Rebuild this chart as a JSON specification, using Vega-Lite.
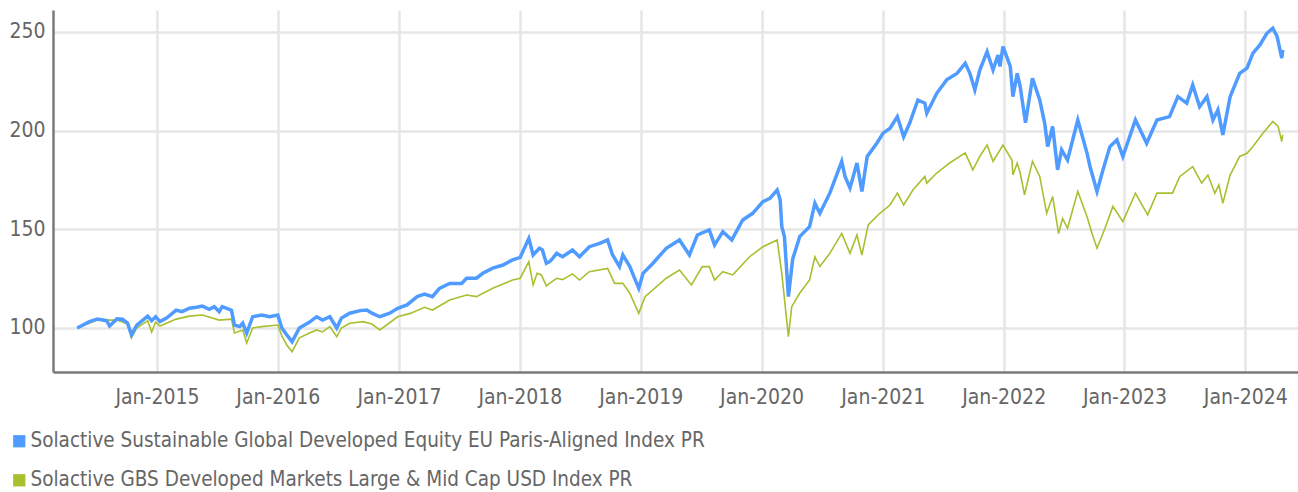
{
  "$schema": "https://vega.github.io/schema/vega-lite/v6.json",
  "width": 1245,
  "height": 362,
  "autosize": {"type": "none"},
  "padding": {"left": 53, "top": 10, "right": 0, "bottom": 120},
  "background": "white",
  "config": {"font": "DejaVu Sans Condensed, Liberation Sans, sans-serif", "view": {"stroke": null}},
  "datasets": {
    "B": [
      {"d":"2014-05-05","v":100},{"d":"2014-07-05","v":104},{"d":"2014-09-02","v":104},{"d":"2014-10-04","v":102},{"d":"2014-10-16","v":95},{"d":"2014-11-01","v":100},{"d":"2014-12-04","v":103.7},{"d":"2014-12-16","v":98},{"d":"2014-12-28","v":103},{"d":"2015-01-10","v":101},{"d":"2015-02-28","v":104.5},{"d":"2015-04-09","v":106},{"d":"2015-05-18","v":106.6},{"d":"2015-07-08","v":104},{"d":"2015-08-14","v":104.5},{"d":"2015-08-23","v":97.5},{"d":"2015-09-17","v":99},{"d":"2015-09-29","v":92.4},{"d":"2015-10-17","v":100},{"d":"2015-11-13","v":100.7},{"d":"2016-01-01","v":101.5},{"d":"2016-01-13","v":96},{"d":"2016-01-28","v":91.4},{"d":"2016-02-13","v":88},{"d":"2016-03-06","v":95},{"d":"2016-04-06","v":97.5},{"d":"2016-04-27","v":99},{"d":"2016-05-15","v":98},{"d":"2016-06-06","v":100.7},{"d":"2016-06-27","v":95.6},{"d":"2016-07-11","v":100},{"d":"2016-08-05","v":102.4},{"d":"2016-09-14","v":103.2},{"d":"2016-10-11","v":102},{"d":"2016-11-04","v":99},{"d":"2016-12-28","v":105.7},{"d":"2017-02-04","v":107.4},{"d":"2017-03-19","v":110.5},{"d":"2017-04-12","v":109.1},{"d":"2017-06-03","v":114.2},{"d":"2017-07-24","v":116.7},{"d":"2017-08-23","v":115.9},{"d":"2017-10-11","v":120.1},{"d":"2017-12-10","v":124.3},{"d":"2018-01-02","v":125.2},{"d":"2018-01-28","v":133.6},{"d":"2018-02-10","v":121.8},{"d":"2018-02-22","v":127.7},{"d":"2018-03-07","v":126.9},{"d":"2018-03-22","v":121.3},{"d":"2018-04-01","v":122.6},{"d":"2018-04-22","v":125.2},{"d":"2018-05-10","v":124.5},{"d":"2018-06-09","v":127.4},{"d":"2018-06-30","v":124.3},{"d":"2018-07-30","v":128.5},{"d":"2018-09-23","v":130.2},{"d":"2018-10-14","v":122.6},{"d":"2018-11-08","v":122.6},{"d":"2018-11-29","v":117.6},{"d":"2018-12-26","v":107.4},{"d":"2019-01-14","v":115.9},{"d":"2019-03-19","v":125.2},{"d":"2019-04-28","v":129.4},{"d":"2019-06-03","v":121.8},{"d":"2019-07-06","v":131.1},{"d":"2019-07-27","v":131.1},{"d":"2019-08-12","v":124.3},{"d":"2019-09-06","v":128.5},{"d":"2019-10-06","v":126.9},{"d":"2019-11-26","v":136.1},{"d":"2020-01-05","v":141.2},{"d":"2020-02-17","v":144.6},{"d":"2020-03-02","v":127.7},{"d":"2020-03-22","v":95.6},{"d":"2020-04-01","v":110.8},{"d":"2020-04-25","v":117.6},{"d":"2020-05-25","v":124.3},{"d":"2020-06-10","v":136.1},{"d":"2020-06-25","v":131.1},{"d":"2020-07-25","v":137.8},{"d":"2020-08-30","v":147.9},{"d":"2020-09-24","v":137.8},{"d":"2020-10-15","v":147.1},{"d":"2020-10-30","v":137},{"d":"2020-11-18","v":152.2},{"d":"2020-12-23","v":158.1},{"d":"2021-01-23","v":162.3},{"d":"2021-02-14","v":168.3},{"d":"2021-03-05","v":162.3},{"d":"2021-04-02","v":169.9},{"d":"2021-05-08","v":176.8},{"d":"2021-05-14","v":173.4},{"d":"2021-06-13","v":178.5},{"d":"2021-07-22","v":183.6},{"d":"2021-09-07","v":188.7},{"d":"2021-09-30","v":180.1},{"d":"2021-10-21","v":186.9},{"d":"2021-11-12","v":192.7},{"d":"2021-11-30","v":184.4},{"d":"2021-12-30","v":192.7},{"d":"2022-01-26","v":185.1},{"d":"2022-01-29","v":177.5},{"d":"2022-02-11","v":183.6},{"d":"2022-02-20","v":178.5},{"d":"2022-03-05","v":167.4},{"d":"2022-03-29","v":184.4},{"d":"2022-04-20","v":176.8},{"d":"2022-05-11","v":158.1},{"d":"2022-05-29","v":166.6},{"d":"2022-06-16","v":147.9},{"d":"2022-06-28","v":155.5},{"d":"2022-07-13","v":150.5},{"d":"2022-08-13","v":169.2},{"d":"2022-09-10","v":156.4},{"d":"2022-09-25","v":147.9},{"d":"2022-10-10","v":140.4},{"d":"2022-11-03","v":150.5},{"d":"2022-11-27","v":161.6},{"d":"2022-12-27","v":153.9},{"d":"2023-02-03","v":168.3},{"d":"2023-03-12","v":157.3},{"d":"2023-04-09","v":168.3},{"d":"2023-05-26","v":168.3},{"d":"2023-06-17","v":176.8},{"d":"2023-07-26","v":181.7},{"d":"2023-08-22","v":173.4},{"d":"2023-09-10","v":177.5},{"d":"2023-10-01","v":168.3},{"d":"2023-10-13","v":172.5},{"d":"2023-10-25","v":163.2},{"d":"2023-11-16","v":177.5},{"d":"2023-12-15","v":186.9},{"d":"2024-01-06","v":188.5},{"d":"2024-01-24","v":191.9},{"d":"2024-02-23","v":198.7},{"d":"2024-03-24","v":204.6},{"d":"2024-04-09","v":202.1},{"d":"2024-04-20","v":194.5},{"d":"2024-04-23","v":197.8}
    ],
    "A": [
      {"d":"2014-05-05","v":100},{"d":"2014-06-11","v":103.2},{"d":"2014-07-05","v":104.5},{"d":"2014-08-02","v":103.7},{"d":"2014-08-11","v":101},{"d":"2014-09-02","v":104.6},{"d":"2014-09-19","v":104.4},{"d":"2014-10-04","v":102.5},{"d":"2014-10-16","v":96.5},{"d":"2014-11-01","v":101.5},{"d":"2014-12-04","v":106},{"d":"2014-12-16","v":103.7},{"d":"2014-12-28","v":105.7},{"d":"2015-01-10","v":103.2},{"d":"2015-01-30","v":105},{"d":"2015-02-28","v":109},{"d":"2015-03-18","v":108.3},{"d":"2015-04-09","v":110},{"d":"2015-04-30","v":110.5},{"d":"2015-05-18","v":111.1},{"d":"2015-06-08","v":109.5},{"d":"2015-06-23","v":110.8},{"d":"2015-07-08","v":108.3},{"d":"2015-07-17","v":110.8},{"d":"2015-08-14","v":109},{"d":"2015-08-23","v":101.5},{"d":"2015-09-08","v":100.7},{"d":"2015-09-17","v":102.5},{"d":"2015-09-29","v":97.4},{"d":"2015-10-17","v":105.7},{"d":"2015-11-13","v":106.6},{"d":"2015-12-07","v":105.7},{"d":"2016-01-01","v":106.6},{"d":"2016-01-13","v":100},{"d":"2016-01-28","v":96.5},{"d":"2016-02-13","v":93},{"d":"2016-03-06","v":100},{"d":"2016-04-06","v":103},{"d":"2016-04-27","v":105.7},{"d":"2016-05-15","v":104},{"d":"2016-06-06","v":105.7},{"d":"2016-06-27","v":100},{"d":"2016-07-11","v":105},{"d":"2016-08-05","v":107.5},{"d":"2016-09-05","v":108.8},{"d":"2016-09-26","v":109.1},{"d":"2016-10-11","v":107.5},{"d":"2016-11-04","v":105.7},{"d":"2016-12-04","v":107.5},{"d":"2016-12-28","v":110},{"d":"2017-01-25","v":111.7},{"d":"2017-02-25","v":115.9},{"d":"2017-03-19","v":117.2},{"d":"2017-04-12","v":115.9},{"d":"2017-05-03","v":120.1},{"d":"2017-06-03","v":122.6},{"d":"2017-07-09","v":122.6},{"d":"2017-07-24","v":125.2},{"d":"2017-08-23","v":125.2},{"d":"2017-09-11","v":127.7},{"d":"2017-10-11","v":130.3},{"d":"2017-11-11","v":131.9},{"d":"2017-12-10","v":134.5},{"d":"2018-01-02","v":135.8},{"d":"2018-01-28","v":145.4},{"d":"2018-02-10","v":137},{"d":"2018-03-01","v":140.4},{"d":"2018-03-10","v":139.5},{"d":"2018-03-22","v":132.8},{"d":"2018-04-01","v":133.6},{"d":"2018-04-10","v":135.3},{"d":"2018-04-22","v":137.8},{"d":"2018-05-10","v":136.1},{"d":"2018-06-09","v":139.5},{"d":"2018-06-30","v":136.1},{"d":"2018-07-30","v":141.2},{"d":"2018-08-30","v":142.9},{"d":"2018-09-23","v":144.6},{"d":"2018-10-08","v":137},{"d":"2018-10-29","v":131.1},{"d":"2018-11-08","v":137},{"d":"2018-11-29","v":131.1},{"d":"2018-12-26","v":120.1},{"d":"2019-01-08","v":127.7},{"d":"2019-02-07","v":132.8},{"d":"2019-03-19","v":140.4},{"d":"2019-04-28","v":144.6},{"d":"2019-05-28","v":137},{"d":"2019-06-21","v":147.1},{"d":"2019-07-27","v":149.7},{"d":"2019-08-12","v":142.1},{"d":"2019-09-06","v":148.8},{"d":"2019-10-03","v":144.6},{"d":"2019-11-05","v":154.7},{"d":"2019-12-05","v":158.1},{"d":"2020-01-05","v":164},{"d":"2020-01-26","v":165.7},{"d":"2020-02-17","v":169.9},{"d":"2020-02-26","v":165},{"d":"2020-03-02","v":151.3},{"d":"2020-03-10","v":146.3},{"d":"2020-03-22","v":115.9},{"d":"2020-04-04","v":135},{"d":"2020-04-19","v":142.9},{"d":"2020-04-25","v":146.3},{"d":"2020-05-25","v":151.3},{"d":"2020-06-10","v":163.2},{"d":"2020-06-25","v":158.1},{"d":"2020-07-25","v":168.3},{"d":"2020-08-30","v":184.4},{"d":"2020-09-09","v":176.8},{"d":"2020-09-24","v":170.9},{"d":"2020-10-15","v":183.6},{"d":"2020-10-30","v":169.2},{"d":"2020-11-15","v":186.9},{"d":"2020-12-14","v":193.6},{"d":"2021-01-02","v":198.7},{"d":"2021-01-23","v":201.2},{"d":"2021-02-14","v":207.1},{"d":"2021-03-05","v":196.9},{"d":"2021-03-23","v":203.7},{"d":"2021-04-17","v":215.5},{"d":"2021-05-08","v":213.9},{"d":"2021-05-14","v":208.8},{"d":"2021-06-13","v":218.9},{"d":"2021-07-13","v":225.7},{"d":"2021-08-13","v":229},{"d":"2021-09-07","v":234.1},{"d":"2021-09-21","v":229},{"d":"2021-10-06","v":220.6},{"d":"2021-10-21","v":230.7},{"d":"2021-11-12","v":240},{"d":"2021-11-30","v":230.7},{"d":"2021-12-15","v":238.3},{"d":"2021-12-21","v":232.5},{"d":"2021-12-30","v":242.6},{"d":"2022-01-21","v":232.5},{"d":"2022-01-29","v":217.2},{"d":"2022-02-11","v":229},{"d":"2022-02-20","v":222.3},{"d":"2022-03-08","v":204},{"d":"2022-03-29","v":226.5},{"d":"2022-04-20","v":215.5},{"d":"2022-05-05","v":203.7},{"d":"2022-05-14","v":191.9},{"d":"2022-05-29","v":202.1},{"d":"2022-06-13","v":180.1},{"d":"2022-06-25","v":190.2},{"d":"2022-07-13","v":185.1},{"d":"2022-08-13","v":205.4},{"d":"2022-09-10","v":188.5},{"d":"2022-09-19","v":181.7},{"d":"2022-10-10","v":169.2},{"d":"2022-10-28","v":180.1},{"d":"2022-11-18","v":191.9},{"d":"2022-12-09","v":195.3},{"d":"2022-12-27","v":186.9},{"d":"2023-02-03","v":205.4},{"d":"2023-03-09","v":193.6},{"d":"2023-04-09","v":205.4},{"d":"2023-05-17","v":207.1},{"d":"2023-06-11","v":217.2},{"d":"2023-07-08","v":213.9},{"d":"2023-07-26","v":223.1},{"d":"2023-08-16","v":212.1},{"d":"2023-09-07","v":217.2},{"d":"2023-09-25","v":205.4},{"d":"2023-10-10","v":210.5},{"d":"2023-10-25","v":197.8},{"d":"2023-11-16","v":217.2},{"d":"2023-12-15","v":229},{"d":"2024-01-06","v":231.6},{"d":"2024-01-24","v":239.2},{"d":"2024-02-14","v":243.4},{"d":"2024-03-06","v":249.3},{"d":"2024-03-24","v":251.9},{"d":"2024-04-06","v":247.6},{"d":"2024-04-20","v":236.7},{"d":"2024-04-23","v":240.9}
    ]
  },
  "layer": [
    {
      "data": {"name": "B"},
      "mark": {"type": "line", "strokeWidth": 1.6},
      "encoding": {
        "x": {"field": "d", "type": "temporal"},
        "y": {"field": "v", "type": "quantitative"},
        "color": {"datum": "Solactive GBS Developed Markets Large & Mid Cap USD Index PR"}
      }
    },
    {
      "data": {"name": "A"},
      "mark": {"type": "line", "strokeWidth": 3.5},
      "encoding": {
        "x": {"field": "d", "type": "temporal"},
        "y": {"field": "v", "type": "quantitative"},
        "color": {"datum": "Solactive Sustainable Global Developed Equity EU Paris-Aligned Index PR"}
      }
    }
  ],
  "encoding": {
    "x": {
      "field": "d", "type": "temporal",
      "scale": {"domain": [{"year": 2014, "month": 2, "date": 21}, {"year": 2024, "month": 6, "date": 8}]},
      "axis": {
        "title": null,
        "values": [{"year":2015,"month":1,"date":1},{"year":2016,"month":1,"date":1},{"year":2017,"month":1,"date":1},{"year":2018,"month":1,"date":1},{"year":2019,"month":1,"date":1},{"year":2020,"month":1,"date":1},{"year":2021,"month":1,"date":1},{"year":2022,"month":1,"date":1},{"year":2023,"month":1,"date":1},{"year":2024,"month":1,"date":1}],
        "format": "%b-%Y",
        "grid": true, "gridColor": "#e6e6e6", "gridWidth": 2.5,
        "domainColor": "#7a7a7a", "domainWidth": 2.5,
        "ticks": false,
        "labelFontSize": 21, "labelColor": "#666666", "labelPadding": 14
      }
    },
    "y": {
      "field": "v", "type": "quantitative",
      "scale": {"domain": [77.7, 261.1], "nice": false, "zero": false},
      "axis": {
        "title": null,
        "values": [100, 150, 200, 250],
        "grid": true, "gridColor": "#e6e6e6", "gridWidth": 2.5,
        "domainColor": "#7a7a7a", "domainWidth": 2.5,
        "ticks": false,
        "labelFontSize": 21, "labelColor": "#666666", "labelPadding": 8
      }
    },
    "color": {
      "type": "nominal",
      "scale": {
        "domain": ["Solactive Sustainable Global Developed Equity EU Paris-Aligned Index PR", "Solactive GBS Developed Markets Large & Mid Cap USD Index PR"],
        "range": ["#4f9bff", "#a9bf2f"]
      },
      "legend": {
        "title": null,
        "orient": "none",
        "legendX": -44,
        "legendY": 421,
        "direction": "vertical",
        "symbolType": "square",
        "symbolSize": 150,
        "symbolStrokeWidth": 0,
        "labelFontSize": 20.5,
        "labelColor": "#666666",
        "labelLimit": 1200,
        "labelOffset": 1,
        "rowPadding": 18,
        "encode": {"symbols": {"update": {"fill": {"scale": "color", "field": "value"}, "fillOpacity": {"value": 1}}}}
      }
    }
  }
}
